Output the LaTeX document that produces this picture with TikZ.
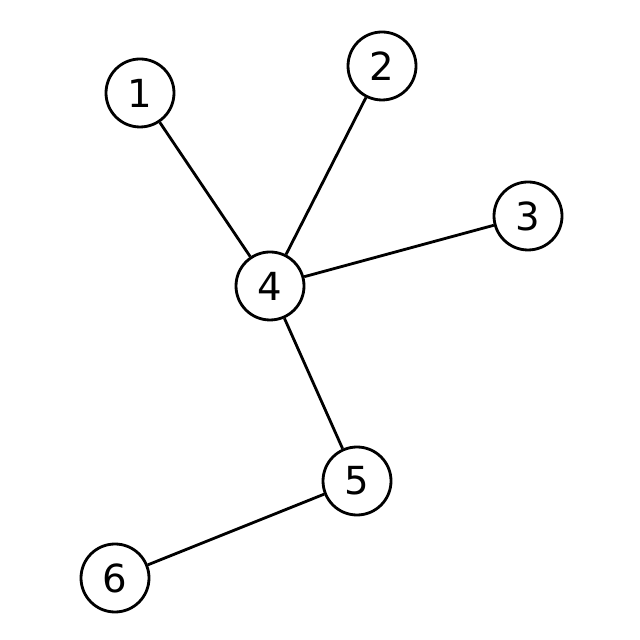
\documentclass[tikz,border=0pt]{standalone}
\usepackage{fontspec}
\setmainfont{DejaVu Sans}
\begin{document}
\begin{tikzpicture}
	\tikzset{vertex/.style={circle, draw, line width=1.6pt, fill=white, minimum size=1.36cm, inner sep=0pt, font=\fontsize{22}{22}\selectfont}}
	\useasboundingbox (0,0) rectangle (12.8,12.8);
	\node[vertex] (v1) at (2.8, 10.94) {1};
	\node[vertex] (v2) at (7.64, 11.48) {2};
	\node[vertex] (v3) at (10.56, 8.48) {3};
	\node[vertex] (v4) at (5.4, 7.08) {4};
	\node[vertex] (v5) at (7.14, 3.18) {5};
	\node[vertex] (v6) at (2.3, 1.24) {6};
	\foreach \a/\b in {v1/v4, v2/v4, v3/v4, v4/v5, v5/v6}{
		\draw[line width=1.6pt] (\a) -- (\b);
	}
\end{tikzpicture}
\end{document}
